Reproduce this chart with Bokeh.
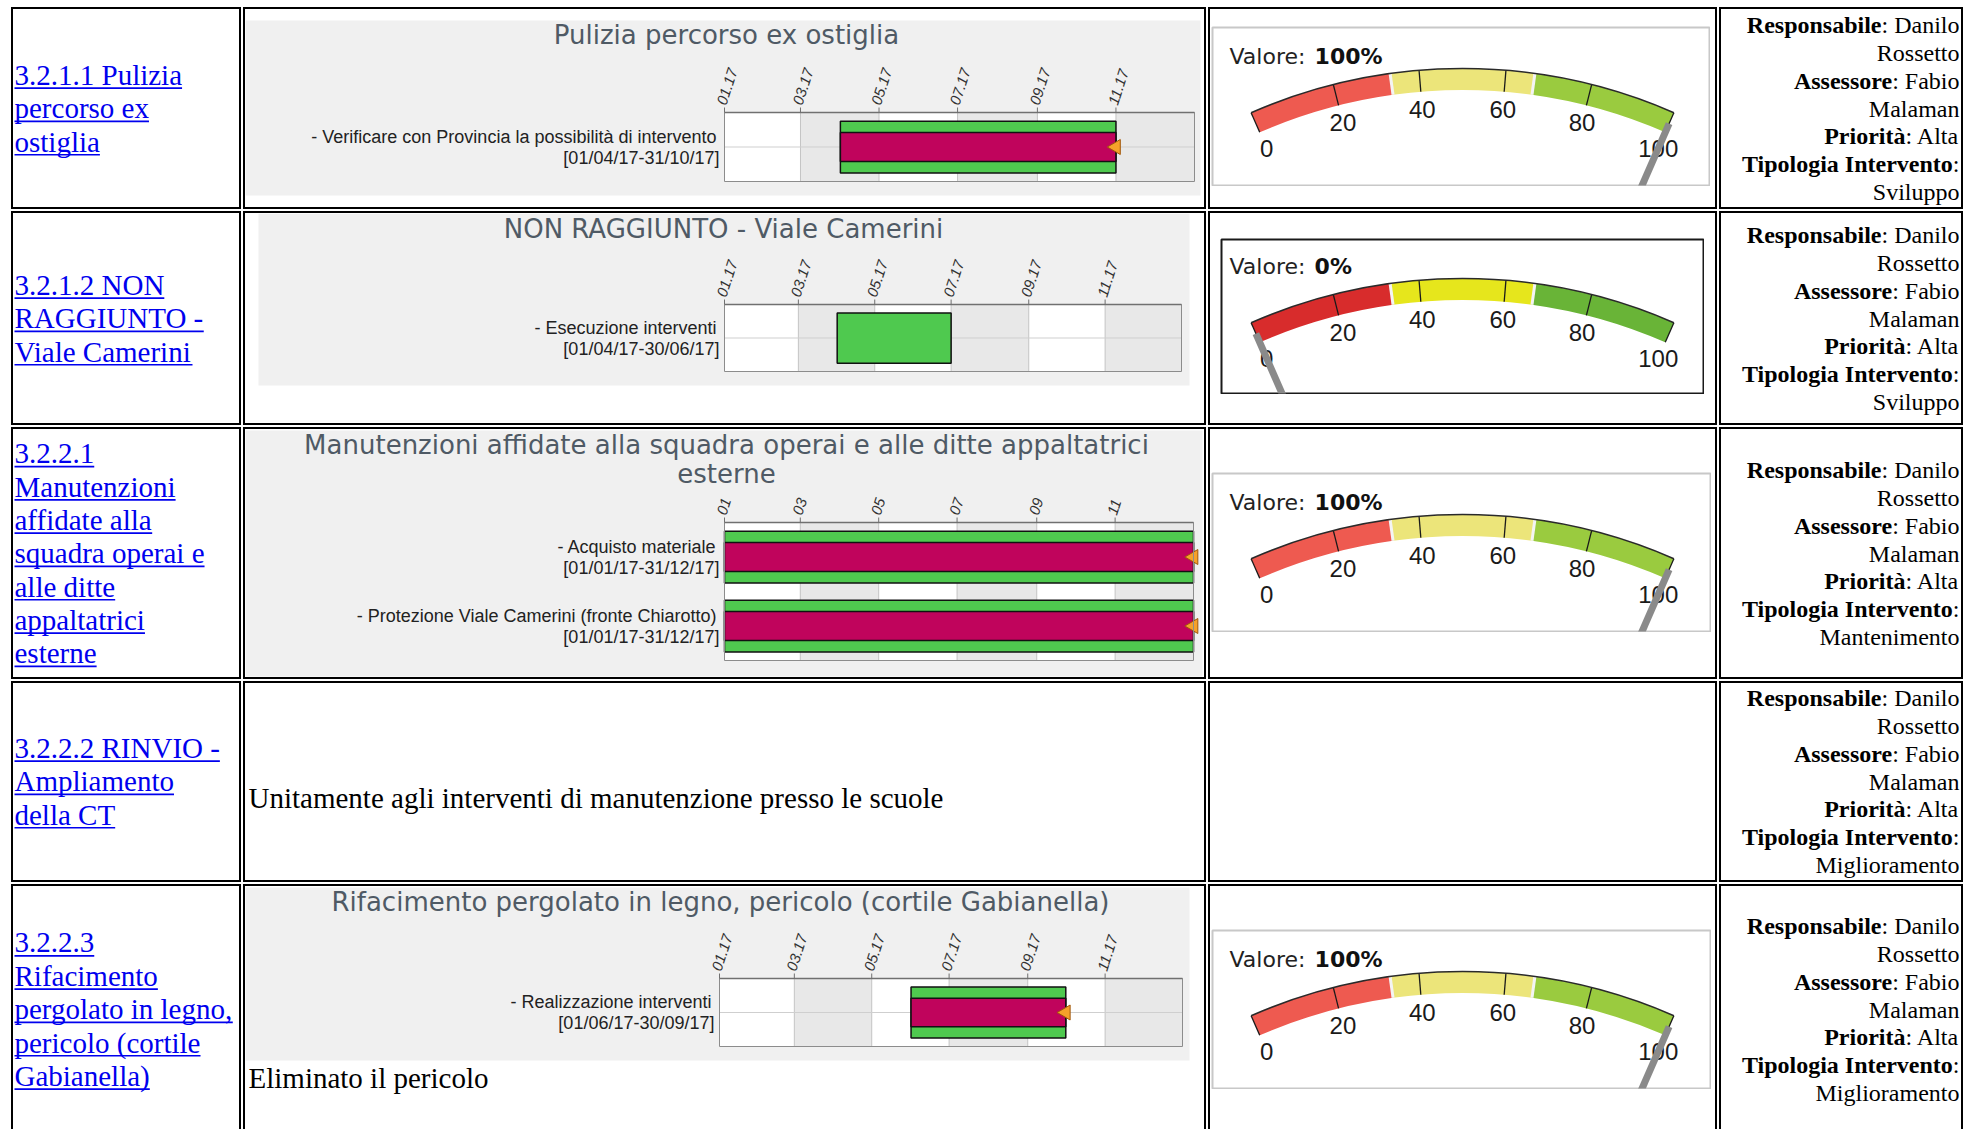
import math
import pandas as pd
from bokeh.plotting import figure
from bokeh.layouts import column, row
from bokeh.models import Range1d, ColumnDataSource, Spacer
from bokeh.core.properties import value
from bokeh.embed import file_html
from bokeh.resources import INLINE

# ---------------------------------------------------------------- data
link_lines = [
    ["3.2.1.1 Pulizia", "percorso ex", "ostiglia"],
    ["3.2.1.2 NON", "RAGGIUNTO -", "Viale Camerini"],
    ["3.2.2.1", "Manutenzioni", "affidate alla", "squadra operai e", "alle ditte",
     "appaltatrici", "esterne"],
    ["3.2.2.2 RINVIO -", "Ampliamento", "della CT"],
    ["3.2.2.3", "Rifacimento", "pergolato in legno,", "pericolo (cortile", "Gabianella)"],
]
gantt_titles = [
    ["Pulizia percorso ex ostiglia"],
    ["NON RAGGIUNTO - Viale Camerini"],
    ["Manutenzioni affidate alla squadra operai e alle ditte appaltatrici", "esterne"],
    None,
    ["Rifacimento pergolato in legno, pericolo (cortile Gabianella)"],
]
task_names = [
    ["- Verificare con Provincia la possibilità di intervento"],
    ["- Esecuzione interventi"],
    ["- Acquisto materiale", "- Protezione Viale Camerini (fronte Chiarotto)"],
    [],
    ["- Realizzazione interventi"],
]
task_start = [["2017-04-01"], ["2017-04-01"], ["2017-01-01", "2017-01-01"], [], ["2017-06-01"]]
task_end = [["2017-10-31"], ["2017-06-30"], ["2017-12-31", "2017-12-31"], [], ["2017-09-30"]]
task_progress = [[100], [0], [100, 100], [], [100]]
axis_months = ["2017-01-01", "2017-03-01", "2017-05-01", "2017-07-01", "2017-09-01", "2017-11-01"]
axis_label_formats = ["%m.%y", "%m.%y", "%m", None, "%m.%y"]
year_start = "2017-01-01"
year_end = "2018-01-01"
notes = [None, None, None,
         "Unitamente agli interventi di manutenzione presso le scuole",
         "Eliminato il pericolo"]
gauge_values = [100, 0, 100, None, 100]
gauge_tick_values = [0, 20, 40, 60, 80, 100]
gauge_band_limits = [0, 33.3, 66.7, 100]
responsabile = ["Danilo", "Rossetto"]
assessore = ["Fabio", "Malaman"]
priorita = "Alta"
tipologia = ["Sviluppo", "Sviluppo", "Mantenimento", "Miglioramento", "Miglioramento"]

# ---------------------------------------------------------------- style / layout
BLUE = "#0000EE"
GREEN = "#4fc94f"
MAGENTA = "#c0045c"
ORANGE = "#f5a12a"
PANEL = "#f0f0f0"
PAL_SOFT = ["#ee5a50", "#ece57a", "#9acb3f"]
PAL_STRONG = ["#d82c2c", "#e6e61c", "#69b437"]

COL_IN = [226, 959, 505, 240]
ROW_IN = [198, 210, 248, 197, 243]
ROW_C = [99, 105, 124, 98, 123]
NOTE_MID = {3: 114, 4: 191}

# gantt geometry in cell-inner pixel coords: panel box, chart frame box, title centre
GANTT_GEOM = {
    0: dict(panel=(0, 11, 955, 186), frame=(479, 103, 949, 172), tcx=481, ty=[25]),
    1: dict(panel=(13, 0, 944, 172), frame=(479, 91, 936, 158), tcx=478, ty=[15]),
    2: dict(panel=(0, 1, 957, 247), frame=(479, 93, 948, 231), tcx=481, ty=[15, 44]),
    4: dict(panel=(0, 1, 944, 174), frame=(474, 92, 937, 160), tcx=475, ty=[15]),
}
# gauge box geometry: left, top, w, h, centre-x, apex, border, palette
GAUGE_GEOM = {
    0: (1, 17, 499, 160, 251, 42, "#c8c8c8", PAL_SOFT),
    1: (10, 25, 484, 156, 242, 40, "#1a1a1a", PAL_STRONG),
    2: (1, 43, 500, 160, 251, 42, "#c8c8c8", PAL_SOFT),
    4: (1, 43, 500, 160, 251, 42, "#c8c8c8", PAL_SOFT),
}

TIMES_W = {' ': 250, '!': 333, '(': 333, ')': 333, ',': 250, '-': 333, '.': 250, ':': 278,
           'A': 722, 'B': 667, 'C': 667, 'D': 722, 'E': 611, 'F': 556, 'G': 722, 'H': 722,
           'I': 333, 'J': 389, 'K': 722, 'L': 611, 'M': 889, 'N': 722, 'O': 722, 'P': 556,
           'Q': 722, 'R': 667, 'S': 556, 'T': 611, 'U': 722, 'V': 722, 'W': 944, 'X': 722,
           'Y': 722, 'Z': 611, 'a': 444, 'b': 500, 'c': 444, 'd': 500, 'e': 444, 'f': 333,
           'g': 500, 'h': 500, 'i': 278, 'j': 278, 'k': 500, 'l': 278, 'm': 778, 'n': 500,
           'o': 500, 'p': 500, 'q': 500, 'r': 333, 's': 389, 't': 278, 'u': 500, 'v': 500,
           'w': 722, 'x': 500, 'y': 500, 'z': 444}
DEJAVU_W = {'V': 684, 'a': 613, 'l': 278, 'o': 612, 'r': 411, 'e': 615, ':': 337, ' ': 318}


def tw(s, size, table=TIMES_W):
    return sum(table.get(c, 500) for c in s) * size / 1000.0


def blank_fig(w, h, bg="white"):
    p = figure(width=w, height=h, x_range=Range1d(0, w), y_range=Range1d(h, 0),
               toolbar_location=None, output_backend="svg", min_border=0,
               x_axis_type=None, y_axis_type=None)
    p.outline_line_color = None
    p.background_fill_color = bg
    p.border_fill_color = bg
    return p


def link_fig(k):
    w, h = COL_IN[0], ROW_IN[k]
    p = blank_fig(w, h)
    lines = link_lines[k]
    n = len(lines)
    L = 33.3
    top = ROW_C[k] - n * L / 2
    ys = [top + i * L + 16.6 for i in range(n)]
    p.text(x=[1] * n, y=ys, text=lines, text_font=value("Liberation Serif"),
           text_font_size="29px", text_color=BLUE, text_baseline="middle")
    p.segment(x0=[1] * n, y0=[y + 13 for y in ys], x1=[1 + tw(s, 29) for s in lines],
              y1=[y + 13 for y in ys], line_color=BLUE, line_width=1.7)
    return p


def info_fig(k):
    w, h = COL_IN[3], ROW_IN[k]
    p = blank_fig(w, h)
    pairs = [("Responsabile", ": " + responsabile[0]), ("", responsabile[1]),
             ("Assessore", ": " + assessore[0]), ("", assessore[1]),
             ("Priorità", ": " + priorita), ("Tipologia Intervento", ":"), ("", tipologia[k])]
    L = 27.7
    top = ROW_C[k] - len(pairs) * L / 2
    ys = [top + i * L + 13.9 for i in range(len(pairs))]
    right = 238
    p.text(x=[right] * len(pairs), y=ys, text=[b for _, b in pairs],
           text_font=value("Liberation Serif"), text_font_size="24px", text_color="black",
           text_align="right", text_baseline="middle")
    bx, by, bt = [], [], []
    for (a, b), y in zip(pairs, ys):
        if a:
            bx.append(right - tw(b, 24))
            by.append(y)
            bt.append(a)
    p.text(x=bx, y=by, text=bt, text_font=value("Liberation Serif"), text_font_size="24px",
           text_font_style="bold", text_color="black", text_align="right",
           text_baseline="middle")
    return p


def note_fig(text, w, h, mid):
    p = blank_fig(w, h)
    p.text(x=[3], y=[mid], text=[text], text_font=value("Liberation Serif"),
           text_font_size="29px", text_color="black", text_baseline="middle")
    return p


def gantt_cell(k, W, H):
    g = GANTT_GEOM[k]
    px0, py0, px1, py1 = g["panel"]
    fx0, fy0, fx1, fy1 = g["frame"]
    names = task_names[k]
    n = len(names)
    X0 = pd.Timestamp(year_start).value / 1e6
    X1 = pd.Timestamp(year_end).value / 1e6
    mpp = (X1 - X0) / (fx1 - fx0)
    pu = (fy1 - fy0) / n

    def X(px):
        return X0 + (px - fx0) * mpp

    def Y(py):
        return n - (py - fy0) / pu

    p = figure(width=W, height=H, x_range=Range1d(X(0), X(W)), y_range=Range1d(Y(H), Y(0)),
               toolbar_location=None, output_backend="svg", min_border=0,
               x_axis_type=None, y_axis_type=None)
    p.outline_line_color = None
    p.background_fill_color = "white"
    p.border_fill_color = "white"

    # grey panel and white chart area
    p.quad(left=[X(px0)], right=[X(px1)], top=[Y(py0)], bottom=[Y(py1)],
           fill_color=PANEL, line_color=None)
    p.quad(left=[X0], right=[X1], top=[n], bottom=[0], fill_color="white", line_color=None)

    ticks = [pd.Timestamp(m).value / 1e6 for m in axis_months]
    edges = ticks + [X1]
    p.quad(left=edges[1::2], right=edges[2::2], top=[n] * 3, bottom=[0] * 3,
           fill_color="#e8e8e8", line_color=None)
    p.segment(x0=ticks[1:], y0=[0] * 5, x1=ticks[1:], y1=[n] * 5,
              line_color="#c4c4c4", line_width=1)
    cy = [n - i - 0.5 for i in range(n)]
    p.segment(x0=[X0] * n, y0=cy, x1=[X1] * n, y1=cy, line_color="#cfcfcf", line_width=1)

    s = pd.to_datetime(task_start[k])
    e_incl = pd.to_datetime(task_end[k])
    e = e_incl + pd.Timedelta(days=1)
    prog = task_progress[k]
    pe = pd.DatetimeIndex([a + (b - a) * pr / 100 for a, b, pr in zip(s, e, prog)])
    src = ColumnDataSource(dict(y=cy, start=s.values, end=e.values))
    p.hbar(y="y", left="start", right="end", height=0.75, fill_color=GREEN,
           line_color="#111111", line_width=1.5, source=src)
    keep = [i for i, pr in enumerate(prog) if pr > 0]
    if keep:
        src2 = ColumnDataSource(dict(y=[cy[i] for i in keep], start=s.values[keep],
                                     pend=pe.values[keep]))
        p.hbar(y="y", left="start", right="pend", height=0.42, fill_color=MAGENTA,
               line_color="#111111", line_width=1.5, source=src2)
        p.scatter(x="pend", y="y", marker="triangle", size=15, angle=math.pi / 2,
                  fill_color=ORANGE, line_color="#a0560a", line_width=1, source=src2)

    # chart frame, top axis, ticks, labels
    p.quad(left=[X0], right=[X1], top=[n], bottom=[0], fill_color=None,
           line_color="#8c8c8c", line_width=1)
    p.segment(x0=[X0], y0=[n], x1=[X1], y1=[n], line_color="#707070", line_width=1.6)
    p.segment(x0=ticks, y0=[n] * 6, x1=ticks, y1=[n + 5 / pu] * 6,
              line_color="#707070", line_width=1)
    fmt = axis_label_formats[k]
    tlabels = [pd.Timestamp(m).strftime(fmt) for m in axis_months]
    p.text(x=ticks, y=[n] * 6, text=tlabels, angle=math.radians(72), x_offset=-3,
           y_offset=-8, text_align="left", text_baseline="middle",
           text_font=value("Liberation Sans"), text_font_style="italic",
           text_font_size="15px", text_color="#333333")

    dates = [f"[{a:%d/%m/%y}-{b:%d/%m/%y}]" for a, b in zip(s, e_incl)]
    p.text(x=[X0] * n, y=cy, text=names, x_offset=-8, y_offset=-10.5, text_align="right",
           text_baseline="middle", text_font=value("Liberation Sans"),
           text_font_size="18px", text_color="#222222")
    p.text(x=[X0] * n, y=cy, text=dates, x_offset=-5, y_offset=10.5, text_align="right",
           text_baseline="middle", text_font=value("Liberation Sans"),
           text_font_size="18px", text_color="#222222")

    lines = gantt_titles[k]
    p.text(x=[X(g["tcx"])] * len(lines), y=[Y(t) for t in g["ty"]], text=lines,
           text_align="center", text_baseline="middle", text_font=value("DejaVu Sans"),
           text_font_size="26px", text_color="#4f5a65")

    if notes[k]:
        p.text(x=[X(3)], y=[Y(NOTE_MID[k])], text=[notes[k]],
               text_font=value("Liberation Serif"), text_font_size="29px",
               text_color="black", text_baseline="middle")
    return p


def gauge_fig(k):
    gl, gt, w, h, cx, apex, border, pal = GAUGE_GEOM[k]
    v = gauge_values[k]
    R, B = 528.0, 21.5
    top = R + apex
    p = figure(width=w, height=h, x_range=Range1d(-cx + 1, w - cx - 1),
               y_range=Range1d(top - h + 1, top - 1), toolbar_location=None,
               output_backend="svg", min_border=1, x_axis_type=None, y_axis_type=None)
    p.background_fill_color = "white"
    p.border_fill_color = "white"
    p.outline_line_color = border
    p.outline_line_width = 2

    def ang(t):
        return math.radians(113.6 - 0.472 * t)

    lims = gauge_band_limits
    p.annular_wedge(x=0, y=0, inner_radius=R - B, outer_radius=R,
                    start_angle=[ang(b) for b in lims[1:]],
                    end_angle=[ang(a) for a in lims[:-1]],
                    fill_color=pal, line_color=None)

    def radial(vals, r0, r1):
        return dict(x0=[r0 * math.cos(ang(t)) for t in vals],
                    y0=[r0 * math.sin(ang(t)) for t in vals],
                    x1=[r1 * math.cos(ang(t)) for t in vals],
                    y1=[r1 * math.sin(ang(t)) for t in vals])

    p.segment(**radial(lims[1:-1], R - B, R), line_color="#f4f4f4", line_width=3)
    p.segment(**radial(gauge_tick_values, R - B, R), line_color="#1a1a1a", line_width=1.3)
    p.arc(x=0, y=0, radius=R, start_angle=ang(100), end_angle=ang(0),
          line_color="#2a2a2a", line_width=1.6)
    rl = 489
    p.text(x=[rl * math.cos(ang(t)) for t in gauge_tick_values],
           y=[rl * math.sin(ang(t)) for t in gauge_tick_values],
           text=[str(t) for t in gauge_tick_values], text_align="center",
           text_baseline="middle", text_font=value("Liberation Sans"),
           text_font_size="24px", text_color="#1a1a1a")
    p.segment(**radial([v], 400, 516), line_color="#8a8a8a", line_width=7)
    lab = "Valore: "
    lx = -233
    p.text(x=[lx], y=[R + 12], text=[lab], text_baseline="middle",
           text_font=value("DejaVu Sans"), text_font_size="22px", text_color="#222222")
    p.text(x=[lx + tw(lab, 22, DEJAVU_W)], y=[R + 12], text=[f"{v}%"],
           text_baseline="middle", text_font=value("DejaVu Sans"), text_font_size="22px",
           text_font_style="bold", text_color="#111111")
    return p


def place(content, cw, ch, W, H, left, top):
    items = []
    if top > 0:
        items.append(Spacer(width=W, height=top))
    mid = []
    if left > 0:
        mid.append(Spacer(width=left, height=ch))
    mid.append(content)
    rw = W - left - cw
    if rw > 0:
        mid.append(Spacer(width=rw, height=ch))
    items.append(row(*mid) if len(mid) > 1 else content)
    bh = H - top - ch
    if bh > 0:
        items.append(Spacer(width=W, height=bh))
    return column(*items) if len(items) > 1 else items[0]


def cell(inner, last=False):
    st = {"border": "2px solid black"}
    if last:
        st["border-bottom"] = "0px solid black"
    return column(inner, styles=st)


table_rows = []
for k in range(5):
    last = (k == 4)
    H = ROW_IN[k]
    c1 = cell(link_fig(k), last)
    if k in GANTT_GEOM:
        inner2 = gantt_cell(k, COL_IN[1], H)
    else:
        inner2 = note_fig(notes[k], COL_IN[1], H, NOTE_MID[k])
    c2 = cell(inner2, last)
    if k in GAUGE_GEOM:
        gg = GAUGE_GEOM[k]
        inner3 = place(gauge_fig(k), gg[2], gg[3], COL_IN[2], H, gg[0], gg[1])
    else:
        inner3 = Spacer(width=COL_IN[2], height=H)
    c3 = cell(inner3, last)
    c4 = cell(info_fig(k), last)
    table_rows.append(row(c1, c2, c3, c4, spacing=2))

table = column(*table_rows, spacing=2)
layout = column(Spacer(width=20, height=7), row(Spacer(width=11, height=20), table))

open("out.html", "w", encoding="utf-8").write(file_html(layout, INLINE))
